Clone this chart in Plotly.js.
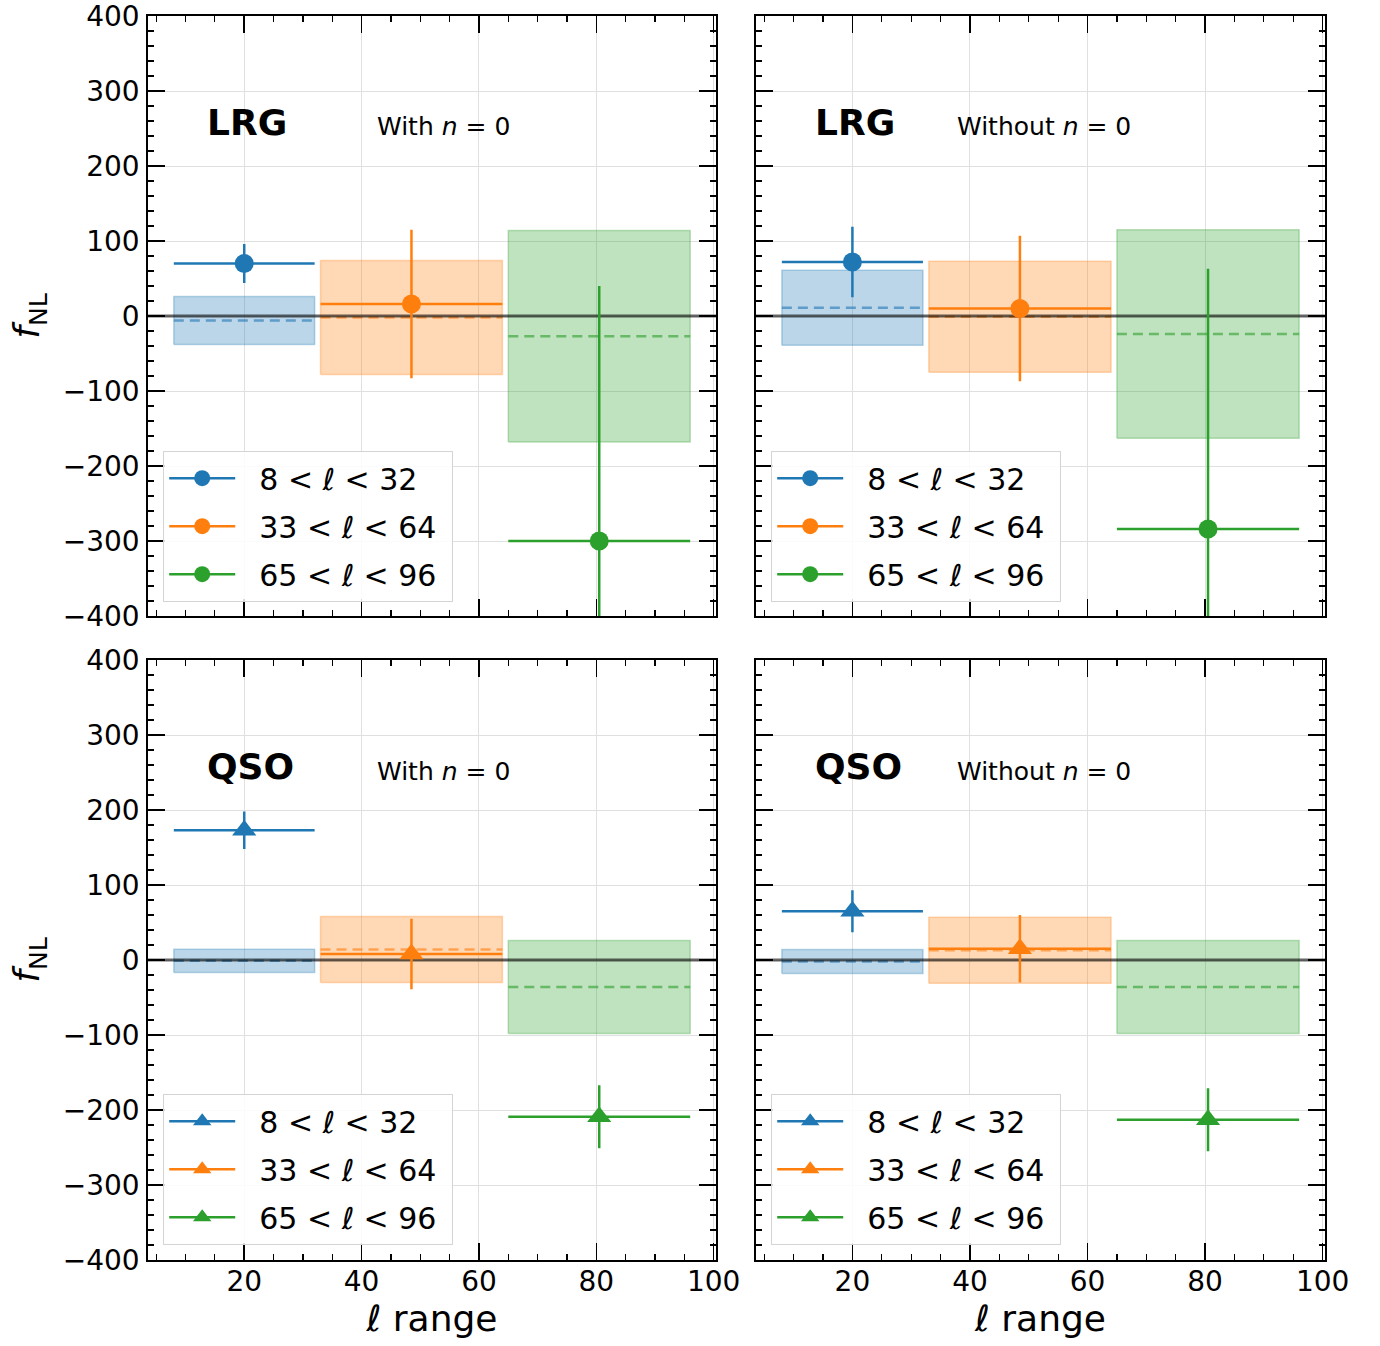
<!DOCTYPE html>
<html>
<head>
<meta charset="utf-8">
<script src="https://cdn.plot.ly/plotly-3.0.1.min.js"></script>
<style>html,body{margin:0;padding:0;background:#fff;}#chart{width:1380px;height:1346px;}</style>
</head>
<body>
<div id="chart"></div>
<script>
// ---- data ----
const binLabels = ["8 &lt; <i>ℓ</i> &lt; 32", "33 &lt; <i>ℓ</i> &lt; 64", "65 &lt; <i>ℓ</i> &lt; 96"];
const ellLow = [8, 33, 65];
const ellHigh = [32, 64, 96];
const binColors = ["31,119,180", "255,127,14", "44,160,44"];
const xRange = [3.6, 100.4];
const yRange = [-400, 400];
const referenceLevel = 0;

// LRG, with n=0
const lrgWithFnl = [70, 16, -300];
const lrgWithErr = [26, 99, 340];
const lrgWithMockMean = [-6, -2, -27];
const lrgWithMockStd = [32, 76, 141];

// LRG, without n=0
const lrgWithoutFnl = [72, 10, -284];
const lrgWithoutErr = [47, 97, 347];
const lrgWithoutMockMean = [11, -1, -24];
const lrgWithoutMockStd = [50, 74, 139];

// QSO, with n=0
const qsoWithFnl = [173, 8, -209];
const qsoWithErr = [25, 47, 42];
const qsoWithMockMean = [-1, 14, -36];
const qsoWithMockStd = [15.5, 44, 62];

// QSO, without n=0
const qsoWithoutFnl = [65, 15, -213];
const qsoWithoutErr = [28, 45, 42];
const qsoWithoutMockMean = [-2, 13, -36];
const qsoWithoutMockStd = [16, 44, 62];

const tracerNames = ["LRG", "LRG", "QSO", "QSO"];
const modeNames = ["With <i>n</i> = 0", "Without <i>n</i> = 0", "With <i>n</i> = 0", "Without <i>n</i> = 0"];

const panels = [
  {fnl: lrgWithFnl, err: lrgWithErr, mean: lrgWithMockMean, std: lrgWithMockStd, sym: "circle", size: 19},
  {fnl: lrgWithoutFnl, err: lrgWithoutErr, mean: lrgWithoutMockMean, std: lrgWithoutMockStd, sym: "circle", size: 19},
  {fnl: qsoWithFnl, err: qsoWithErr, mean: qsoWithMockMean, std: qsoWithMockStd, sym: "triangle-up", size: 21},
  {fnl: qsoWithoutFnl, err: qsoWithoutErr, mean: qsoWithoutMockMean, std: qsoWithoutMockStd, sym: "triangle-up", size: 21}
];

// ---- build ----
const FONT = "DejaVu Sans";
const traces = [];
panels.forEach((p, k) => {
  const xa = k === 0 ? "x" : "x" + (k + 1);
  const ya = k === 0 ? "y" : "y" + (k + 1);
  const lg = k === 0 ? "legend" : "legend" + (k + 1);
  for (let i = 0; i < 3; i++) {
    const c = binColors[i];
    const lo = p.mean[i] - p.std[i], hi = p.mean[i] + p.std[i];
    traces.push({
      x: [ellLow[i], ellHigh[i], ellHigh[i], ellLow[i], ellLow[i]],
      y: [lo, lo, hi, hi, lo],
      xaxis: xa, yaxis: ya, mode: "lines", fill: "toself",
      fillcolor: `rgba(${c},0.3)`, line: {color: `rgba(${c},0.3)`, width: 1.5},
      showlegend: false, hoverinfo: "skip"
    });
    traces.push({
      x: [ellLow[i], ellHigh[i]], y: [p.mean[i], p.mean[i]],
      xaxis: xa, yaxis: ya, mode: "lines",
      line: {color: `rgba(${c},0.6)`, width: 2.5, dash: "10px,6px"},
      showlegend: false, hoverinfo: "skip"
    });
  }
  // horizontal reference line at f_NL = 0
  traces.push({
    x: xRange, y: [referenceLevel, referenceLevel], xaxis: xa, yaxis: ya, mode: "lines",
    line: {color: "rgba(0,0,0,0.6)", width: 2.8}, showlegend: false, hoverinfo: "skip"
  });
  for (let i = 0; i < 3; i++) {
    const c = binColors[i];
    const mid = (ellLow[i] + ellHigh[i]) / 2;
    traces.push({
      x: [mid], y: [p.fnl[i]],
      xaxis: xa, yaxis: ya, mode: "lines+markers",
      name: "&nbsp;&nbsp;" + binLabels[i] + "&nbsp;", legend: lg, legendgroup: "p" + k + "b" + i,
      marker: {symbol: p.sym, size: p.size, color: `rgb(${c})`},
      line: {color: `rgb(${c})`, width: 2.5},
      error_x: {type: "data", array: [(ellHigh[i] - ellLow[i]) / 2], width: 0, thickness: 2.5, color: `rgb(${c})`},
      error_y: {type: "data", array: [p.err[i]], width: 0, thickness: 2.5, color: `rgb(${c})`}
    });
  }
});

const xDom = [[148 / 1380, 716 / 1380], [756 / 1380, 1325 / 1380]];
const yDom = [[1 - 616 / 1346, 1 - 16 / 1346], [1 - 1260 / 1346, 1 - 660 / 1346]];

function xAxis(col, row) {
  const ax = {
    domain: xDom[col], range: xRange, tick0: 0, dtick: 20,
    ticks: "inside", ticklen: 17, tickwidth: 1.5, tickcolor: "#000",
    showline: true, linecolor: "#000", linewidth: 1.8, mirror: "allticks",
    showgrid: true, gridcolor: "#e0e0e0", gridwidth: 1, zeroline: false,
    showticklabels: row === 1, ticklabelstandoff: -4, ticklabeloverflow: "allow",
    tickfont: {family: FONT, size: 28, color: "#000"},
    minor: {ticks: "inside", ticklen: 6, tickwidth: 1.2, tickcolor: "#000", dtick: 5, showgrid: false}
  };
  if (row === 1) ax.title = {text: "<i>ℓ</i> range", font: {family: FONT, size: 36, color: "#000"}, standoff: 4};
  return ax;
}
function yAxis(col, row) {
  const ax = {
    domain: yDom[row], range: yRange, tick0: 0, dtick: 100,
    ticks: "inside", ticklen: 17, tickwidth: 1.5, tickcolor: "#000",
    showline: true, linecolor: "#000", linewidth: 1.8, mirror: "allticks",
    showgrid: true, gridcolor: "#e0e0e0", gridwidth: 1, zeroline: false,
    showticklabels: col === 0, ticklabelstandoff: 1, ticklabeloverflow: "allow",
    tickfont: {family: FONT, size: 28, color: "#000"},
    minor: {ticks: "inside", ticklen: 6, tickwidth: 1.2, tickcolor: "#000", dtick: 20, showgrid: false}
  };
  if (col === 0) ax.title = {text: "<i>f</i><sub>NL</sub>", font: {family: FONT, size: 36, color: "#000"}, standoff: 12};
  return ax;
}

const layout = {
  width: 1380, height: 1346,
  margin: {l: 0, r: 0, t: 0, b: 0},
  paper_bgcolor: "#fff", plot_bgcolor: "#fff",
  font: {family: FONT, color: "#000"},
  annotations: [], showlegend: true
};
for (let k = 0; k < 4; k++) {
  const col = k % 2, row = Math.floor(k / 2);
  const sfx = k === 0 ? "" : String(k + 1);
  const xa = xAxis(col, row); xa.anchor = "y" + sfx;
  const ya = yAxis(col, row); ya.anchor = "x" + sfx;
  layout["xaxis" + sfx] = xa;
  layout["yaxis" + sfx] = ya;
  layout["legend" + sfx] = {
    x: col === 0 ? 163 / 1380 : 771 / 1380,
    y: row === 0 ? 1 - 602 / 1346 : 1 - 1245 / 1346,
    xanchor: "left", yanchor: "bottom",
    bgcolor: "rgba(255,255,255,0.85)", bordercolor: "#d4d4d4", borderwidth: 1.2,
    font: {family: FONT, size: 30, color: "#000"},
    tracegroupgap: 6, itemwidth: 66
  };
  layout.annotations.push({
    xref: "x" + sfx + " domain", yref: "y" + sfx + " domain",
    x: 0.1, y: 0.823, xanchor: "left", yanchor: "middle", showarrow: false,
    text: "<b>" + tracerNames[k] + "</b>", font: {family: FONT, size: 36, color: "#000"}
  });
  layout.annotations.push({
    xref: "x" + sfx + " domain", yref: "y" + sfx + " domain",
    x: col === 0 ? 0.4 : 0.35, y: 0.815, xanchor: "left", yanchor: "middle", showarrow: false,
    text: modeNames[k], font: {family: FONT, size: 25, color: "#000"}
  });
}

Plotly.newPlot("chart", traces, layout, {staticPlot: true});
</script>
</body>
</html>
